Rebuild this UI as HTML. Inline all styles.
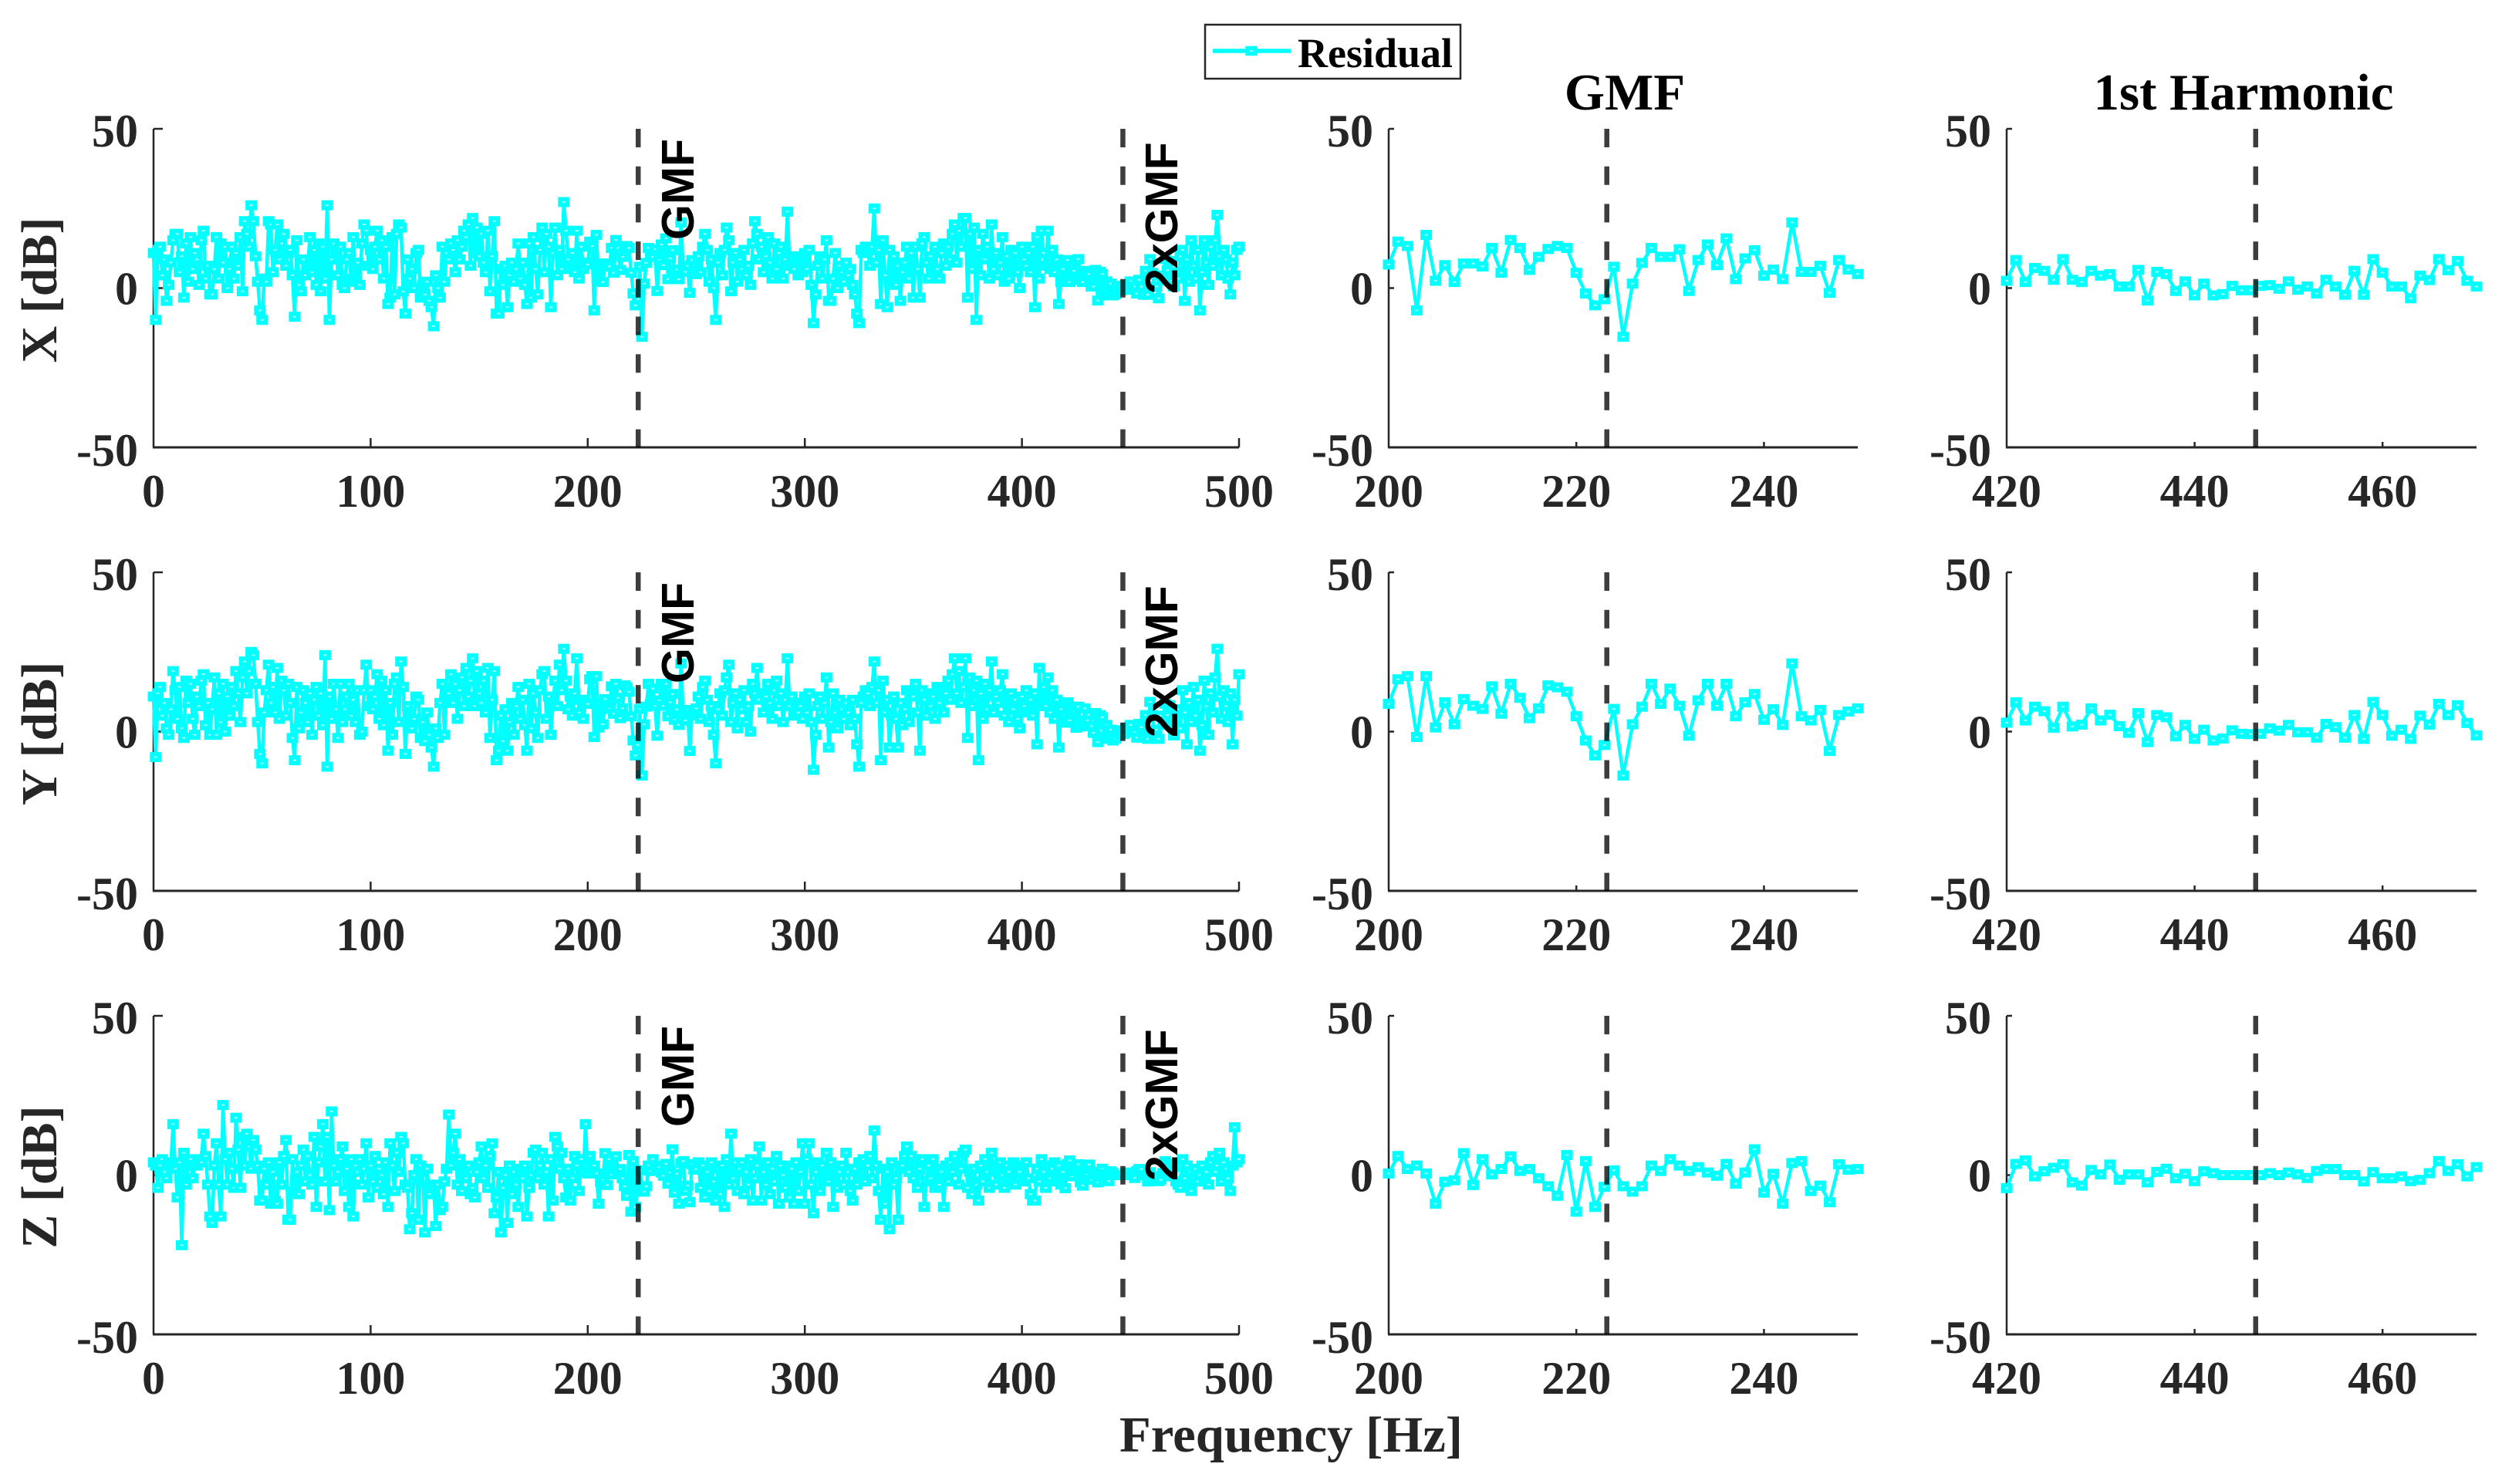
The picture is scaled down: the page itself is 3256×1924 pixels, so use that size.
<!DOCTYPE html>
<html lang="en">
<head>
<meta charset="utf-8">
<title>Residual spectra</title>
<style>
html,body{margin:0;padding:0;background:#fff;}
#chart{display:block;width:3256px;height:1924px;}
.serif{font-family:"Liberation Serif",serif;font-weight:700;}
.sans{font-family:"Liberation Sans",sans-serif;font-weight:700;}
</style>
</head>
<body>
<svg id="chart" xmlns="http://www.w3.org/2000/svg" width="3256" height="1924" viewBox="0 0 3256 1924">
<rect x="0" y="0" width="3256" height="1924" fill="#ffffff"/>
<g id="panels"></g>
<g>
<rect x="1562" y="32" width="331" height="70" fill="#ffffff" stroke="#262626" stroke-width="2.5"/>
<line x1="1572" y1="66" x2="1673" y2="66" stroke="#00ffff" stroke-width="5.5"/>
<rect x="1617" y="62.5" width="10" height="7" fill="#c8ffff" stroke="#00ffff" stroke-width="5.5"/>
<text class="serif" x="1682" y="87" font-size="54" fill="#000000">Residual</text>
</g>
<text class="serif" x="2106" y="142" font-size="67" fill="#000000" text-anchor="middle">GMF</text>
<text class="serif" x="2908" y="142" font-size="67" fill="#000000" text-anchor="middle">1st Harmonic</text>
<text class="serif" x="1451" y="1882" font-size="66" fill="#262626" textLength="445" lengthAdjust="spacingAndGlyphs">Frequency [Hz]</text>
</svg>
<script>
// Values in dB, one per Hz. Each series is split into the ranges it was read from.
const xLow=[
11,-10,12,13,4,9,-4,1,8,15,
17,17,5,10,-3,14,2,16,6,11,
9,1,15,18,3,7,-2,-2,6,16,
3,14,8,13,0,6,13,3,11,7,
16,-1,21,17,13,26,21,10,2,-7,
-10,3,2,21,20,5,12,20,9,14,
17,7,11,12,4,-9,15,1,-1,9,
4,6,16,5,12,1,14,-1,13,3,
26,-10,9,14,12,4,13,1,0,9,
11,3,16,2,8,1,14,20,18,7,
12,6,13,18,9,15,3,13,-5,-3,
16,-2,17,20,19,-1,-8,9,3,6,
0,11,12,-3,1,-2,2,-4,-6,-12,
4,0,-3,13,2,11,9,14,12,5,
15,9,13,18,16,20,7,22,11,19,
10,17,8,5,18,-1,10,21,-8,-8,
6,1,7,-6,4,8,2,6,14,3,
8,1,-5,14,-3,16,6,-2,12,19,
5,17,13,-6,11,19,4,12,6,27,
18,9,6,11,5,18,3,13,6,8];
const xGmf=[
7.4,14.6,13.2,-7,16.7,2.3,7.2,1.9,7.7,7.7,
6.8,12.6,4.8,15.1,12.6,5.7,9.8,12.3,13.2,12.6,
4.8,-1.7,-5.4,-3.5,6.7,-15.3,1.4,7.9,12.6,9.8,
9.8,12.2,-0.9,8.8,13.7,7.2,15.6,2.8,9.3,11.9,
3.9,5.8,2.8,20.6,5.1,5.1,7,-1.5,8.8,5.8,4.4];
const xMid=[
10,5,13,17,12,2,9,0,-10,
8,11,4,12,19,15,-1,8,11,2,
9,6,12,4,7,1,14,21,17,9,
13,5,10,16,8,3,14,6,11,13,
3,9,24,7,10,6,9,4,10,5,
11,6,12,1,-11,-2,7,10,3,9,
15,-4,-4,3,11,0,7,5,2,8,
4,6,1,-2,-8,-11,12,11,13,12,
7,13,25,8,12,-5,15,4,-6,12,
2,10,1,7,-4,5,8,13,3,11,
-3,13,6,-3,14,16,8,3,10,5,
13,6,3,11,14,7,13,9,17,20,
8,18,13,22,22,-3,17,6,19,-10,
12,4,17,9,13,3,20,6,11,4,
8,16,2,10,3,12,6,11,5,0,
13,9,7,11,5,13,-6,16,3,18,
11,7,18,6,12,5,9,-5,2,6];
const xHarm=[
2.3,8.8,1.9,6.3,5.4,2.6,9.1,2.6,1.9,5.4,
3.9,4.4,0.5,0.5,5.7,-3.9,5.1,4.4,-0.9,2.1,
-2.3,1.4,-2.3,-1.9,0.7,-0.7,-0.7,0.7,0.9,-0.2,
2.1,-0.5,0.5,-1.7,2.6,0.5,-2.1,5.4,-2.1,9.1,
4.8,0.5,0.5,-3.2,3.9,2.5,9.1,5.6,8.5,2.3,0.5];
const xHigh=[
5,3,10,12,-4,9,2,15,7,
3,12,-7,5,15,8,1,13,7,15,
23,10,4,12,9,3,-2,8,4,12,
13];

const yLow=[
11,-8,12,14,5,9,1,-1,7,19,
13,4,14,1,-2,16,9,15,4,-1,
11,8,16,18,2,9,-1,7,17,-1,
12,3,15,0,11,5,14,8,19,12,
3,17,22,12,19,25,24,15,3,-7,
-10,6,13,21,9,14,6,20,4,16,
13,5,15,9,-2,-9,14,1,6,13,
9,3,12,-1,10,14,5,12,2,24,
-11,11,4,15,7,-2,15,3,7,11,
15,5,10,3,13,-1,0,13,21,8,
13,7,11,18,4,16,2,13,-6,9,
-1,15,17,3,22,14,-7,8,5,1,
4,11,10,-2,3,-3,6,-1,-5,-11,
1,-2,9,15,-1,13,12,18,9,15,
4,13,17,8,20,11,16,23,8,19,
12,9,16,6,20,-2,10,19,-9,-6,
5,-3,7,-6,3,9,-1,8,14,4,
10,2,-6,15,1,12,6,-2,13,18,
19,4,11,-1,9,16,8,21,13,26,
16,7,11,5,12,23,6,10,4,9];
const yGmf=[
8.7,16.4,17.4,-1.7,17.4,1.3,9.2,2.3,10.2,8.1,
7.1,14.2,5.6,15,10.6,4.2,7.3,14.5,13.9,12.5,
4.8,-2.8,-7.5,-4.2,7.1,-13.8,2.3,7.8,15,8.7,
13.5,8.1,-1.3,9.8,15,8.1,15,4.8,9.2,11.8,
3.7,7,2.1,21.4,4.8,3.5,6.8,-6.1,5.2,6.3,7.3];
const yMid=[
11,4,14,16,10,3,8,-1,-10,
7,12,5,13,17,21,3,9,12,1,
10,7,13,3,8,0,15,12,20,10,
12,6,11,15,9,4,13,16,8,12,
3,10,23,8,11,5,9,6,8,4,
11,6,12,3,-12,-1,8,11,4,9,
17,-5,3,12,6,1,10,7,4,9,
6,2,10,4,-4,-11,9,11,13,12,
8,14,22,9,13,-9,16,6,10,-5,
5,11,4,-5,9,2,7,13,3,12,
11,15,6,-6,13,10,5,12,8,11,
4,14,9,13,6,12,16,10,18,23,
12,19,9,14,23,-2,17,8,13,16,
-9,12,4,15,7,13,22,6,11,9,
13,18,5,11,3,12,7,10,4,1,
11,8,13,6,10,5,12,-4,20,9,
14,8,17,6,13,4,10,-5,7,3];
const yHarm=[
2.8,9.2,3.5,7.8,6.4,1.2,7.8,1.6,2.2,7.3,
3.5,5.3,1.7,-0.4,5.8,-3.3,5.2,4.5,-1.5,2.1,
-2.3,0.6,-2.8,-2.2,0.4,-0.7,-0.8,-0.7,1,0.3,
2.1,-0.2,-0.2,-1.9,2.4,1.4,-1.9,5.2,-2.3,9.3,
5.2,-1.3,0.6,-2.3,5,2.2,8.7,5.2,8.3,2.7,-1.2];
const yHigh=[
4,7,1,13,6,-4,9,3,14,
5,10,-6,2,16,8,-1,12,6,17,
26,11,4,13,8,3,12,-4,10,5,
18];

const zLow=[
4,3,-4,3,5,1,-1,4,3,16,
2,-7,4,-22,7,-3,4,5,-1,3,
3,5,4,13,6,-3,-13,-15,3,10,
-3,-13,22,5,-3,7,2,-4,18,8,
-4,12,3,13,9,2,11,8,3,-8,
-8,2,-3,4,-9,1,-8,-9,4,-3,
6,11,-14,-14,5,-5,1,-6,3,8,
-2,6,0,-3,12,-10,4,9,16,-2,
12,-11,20,3,-2,1,5,9,-5,2,
-10,5,-13,3,1,5,-3,2,10,-7,
3,-2,6,-4,2,0,-6,4,-10,10,
3,-5,7,1,12,10,-3,-4,-17,-12,
0,5,-14,3,1,-18,2,-6,-4,-3,
-16,-3,-11,-10,-2,2,19,3,7,13,
-3,5,-5,2,-1,3,-6,-4,-7,1,
4,9,-1,3,-4,6,10,-12,-7,1,
-18,-4,0,-15,3,-6,1,-3,-10,2,
-1,3,-13,-4,0,7,8,-1,3,7,
-3,1,-13,5,-8,12,9,2,7,-1,
-7,2,-8,-1,6,3,-5,5,1,16];
const zGmf=[
0.5,6,1.9,3,0.5,-9,-2.1,-1.6,6.9,-3.1,
5,0.2,1.9,5.9,1.3,1.9,-1,-3.5,-6.5,6.3,
-11.5,4.4,-10,-3.7,1.5,-3.5,-5.2,-3.5,3,1.3,
5,3,1.3,2.5,0.8,-0.2,3.5,-2.7,0.8,8.1,
-5.5,0.4,-9,3.8,4.4,-5,-3.3,-8.5,3.4,1.7,1.9];
const zMid=[
4,-4,3,-7,1,-5,4,-2,-8,
2,-6,3,-10,5,-3,13,-1,4,-5,
2,4,-6,1,-3,5,-8,-1,3,9,
-8,1,-3,4,-6,2,-2,6,-9,3,
0,-4,3,-7,2,-9,4,-5,1,10,
-9,5,10,-3,-12,1,4,-5,3,-2,
7,-2,4,-10,2,-4,1,3,-3,7,
1,-5,-8,2,-3,4,-1,5,-2,3,
6,-1,14,3,-5,-14,2,-9,1,-17,
4,-3,-1,-14,2,3,6,9,1,6,
-1,3,-4,2,5,-10,-2,3,-1,5,
-4,2,-3,1,-10,3,-2,4,1,6,
3,-3,2,7,8,-4,1,-6,2,-3,
-8,3,-2,5,1,-4,7,2,-3,1,
4,0,-4,3,1,-2,4,-3,3,1,
3,-2,4,-1,-6,-8,-8,2,-2,5,
1,-4,3,-1,2,4,-2,3,-3,1];
const zHarm=[
-4.1,3.5,4.6,-0.4,1.2,2.3,3.4,-2.3,-3.3,1.6,
0.2,3.3,-1.5,0.2,0.2,-2.3,1,2,-1,0.4,
-1.9,1.2,0.6,0,0,0,0,0,0.6,0,
0.8,0.2,-0.9,1.3,1.9,1.9,0,0,-2,0.9,
-1,-1,-0.4,-1.9,-1.5,0.6,4.4,1.3,3.4,-0.4,2.5];
const zHigh=[
-2,-3,-4,5,-1,3,-4,-5,-1,
2,-2,0,3,-2,1,-3,4,6,1,
3,7,-2,4,2,-1,-5,3,15,4,
5];

const seriesX=[...xLow,...xGmf,...xMid,...xHarm,...xHigh];
const seriesY=[...yLow,...yGmf,...yMid,...yHarm,...yHigh];
const seriesZ=[...zLow,...zGmf,...zMid,...zHarm,...zHigh];

const yTickValues=[-50,0,50];
const xTicksFull=[0,100,200,300,400,500];
const xTicksGmf=[200,220,240];
const xTicksHarmonic=[420,440,460];
const gmfHz=223.25;
const harmonicHz=446.5;

const NS='http://www.w3.org/2000/svg';
const root=document.getElementById('panels');
const rows=[
 {key:'x',label:'X [dB]',top:167,bottom:580,data:seriesX},
 {key:'y',label:'Y [dB]',top:742,bottom:1155,data:seriesY},
 {key:'z',label:'Z [dB]',top:1317,bottom:1730,data:seriesZ}
];
const cols=[
 {key:'full',left:199,right:1606,min:0,max:500,ticks:xTicksFull,tickLen:12,refs:[gmfHz,harmonicHz]},
 {key:'gmf',left:1800,right:2408,min:200,max:250,ticks:xTicksGmf,tickLen:7,refs:[gmfHz]},
 {key:'harmonic',left:2601,right:3210,min:420,max:470,ticks:xTicksHarmonic,tickLen:7,refs:[harmonicHz]}
];
function make(parent,tag,attrs,text){
 const el=document.createElementNS(NS,tag);
 for(const k in attrs){el.setAttribute(k,attrs[k]);}
 if(text!==undefined){el.textContent=text;}
 parent.appendChild(el);
 return el;
}
const axisColor='#262626';
function tickBaseline(v){
 if(v===-50){return 24;}
 if(v===0){return 21;}
 return 23;
}
rows.forEach(function(row){
 const yLabel=make(root,'text',{class:'serif','font-size':66,fill:axisColor,'text-anchor':'middle','xml:space':'preserve',transform:'translate(73,'+(row.top+209)+') rotate(-90)'},row.label.replace(' ','  '));
 
 
 cols.forEach(function(col){
  const sx=function(f){return col.left+(f-col.min)/(col.max-col.min)*(col.right-col.left);};
  const sy=function(v){return row.bottom-(v+50)/100*(row.bottom-row.top);};
  const g=make(root,'g',{});
  
  
  const yAxis=make(g,'line',{x1:col.left,y1:row.top,x2:col.left,y2:row.bottom,stroke:axisColor,'stroke-width':2.5});
  
  
  const xAxis=make(g,'line',{x1:col.left-1,y1:row.bottom,x2:col.right,y2:row.bottom,stroke:axisColor,'stroke-width':3});
  
  
  yTickValues.forEach(function(v){
   if(v!==-50){
    const t=make(g,'line',{x1:col.left,y1:sy(v),x2:col.left+col.tickLen,y2:sy(v),stroke:axisColor,'stroke-width':2.5});
    
    
   }
   const lab=make(g,'text',{class:'serif',x:col.left-20,y:sy(v)+tickBaseline(v),'font-size':60,fill:axisColor,'text-anchor':'end'},String(v));
   
   
  });
  col.ticks.forEach(function(f){
   if(f!==col.min){
    const t=make(g,'line',{x1:sx(f),y1:row.bottom,x2:sx(f),y2:row.bottom-col.tickLen,stroke:axisColor,'stroke-width':2.5});
    
    
   }
   const lab=make(g,'text',{class:'serif',x:sx(f),y:row.bottom+77,'font-size':60,fill:axisColor,'text-anchor':'middle'},String(f));
   
   
  });
  const pts=[];
  const markers=make(g,'g',{});
  for(let f=col.min;f<=col.max;f++){
   pts.push(sx(f).toFixed(1)+','+sy(row.data[f]).toFixed(1));
  }
  const line=make(g,'polyline',{points:pts.join(' '),fill:'none',stroke:'#00ffff','stroke-width':4.5,'stroke-linejoin':'round'});
  
  
  g.insertBefore(line,markers);
  
  
  for(let f=col.min;f<=col.max;f++){
   const m=make(markers,'rect',{x:(sx(f)-4.75).toFixed(1),y:(sy(row.data[f])-3.75).toFixed(1),width:9.5,height:7.5,fill:'#a8ffff',stroke:'#00ffff','stroke-width':5.5});
   
   
  }
  col.refs.forEach(function(f){
   const d=make(g,'line',{x1:sx(f),y1:row.top,x2:sx(f),y2:row.bottom,stroke:'#000000','stroke-opacity':0.76,'stroke-width':6.5,'stroke-dasharray':'24 24.7'});
   
   
  });
  if(col.key==='full'){
   const a=make(g,'text',{class:'sans','font-size':59,fill:'#000000',transform:'translate(899,'+(row.top+144)+') rotate(-90)'},'GMF');
   
   
   const b=make(g,'text',{class:'sans','font-size':59,fill:'#000000',transform:'translate(1526,'+(row.top+214)+') rotate(-90)'},'2xGMF');
   
   
  }
 });
});
</script>
</body>
</html>
